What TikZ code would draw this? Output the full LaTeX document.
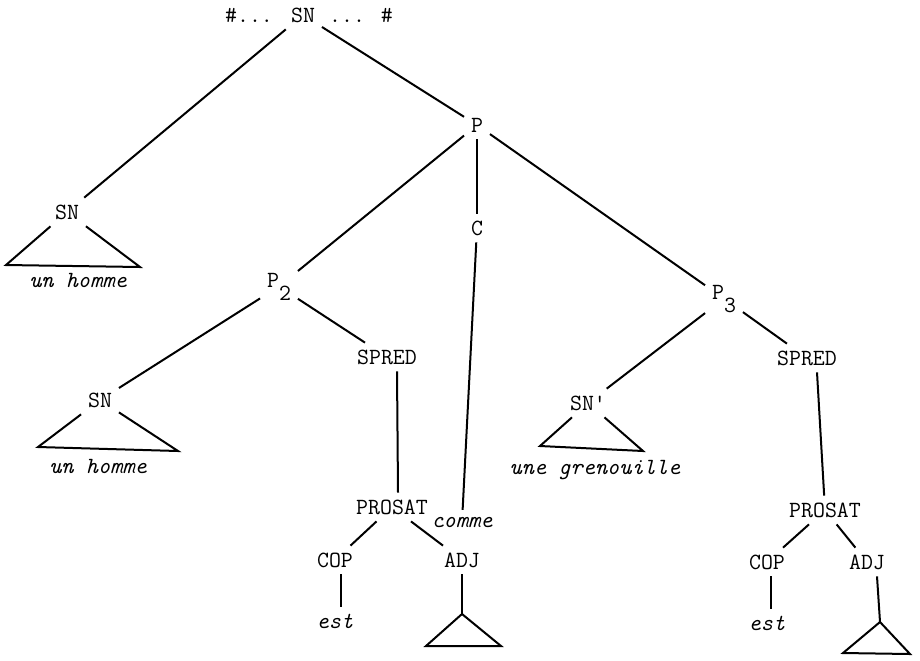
\documentclass[tikz,border=0pt]{standalone}
\usepackage{tikz}
\newcommand{\lowsub}[1]{\raisebox{-6.5pt}{#1}}

\begin{document}
\begin{tikzpicture}[x=0.5pt,y=0.5pt,yscale=-1,xscale=1,
    line width=1pt,
    cat/.style={inner sep=1.5pt, outer sep=2pt, font=\fontsize{11.6}{14}\selectfont\ttfamily},
    word/.style={inner sep=1.5pt, outer sep=2pt, anchor=base, font=\fontsize{11.6}{14}\selectfont\ttfamily\itshape}]
    \useasboundingbox (0,0) rectangle (920,660);

    \draw (249,15) node [cat] (hashL) {\#...};
    \draw (303,15) node [cat] (root) {SN};
    \draw (361,15) node [cat] (hashR) {... \#};
    \draw (477,125) node [cat] (p) {P};
    \draw (477,228) node [cat] (c) {C};
    \draw (462,527) node [word] (comme) {comme};

    \draw (67,212) node [cat] (snA) {SN};
    \draw (78,287) node [word] (wordA) {un homme};

    \draw (279,287) node [cat, anchor=base] (pTwo) {P\lowsub{2}};
    \draw (100,400) node [cat] (snB) {SN};
    \draw (98,473) node [word] (wordB) {un homme};
    \draw (387,357) node [cat] (spredA) {SPRED};
    \draw (392,507) node [cat] (prosatA) {PROSAT};
    \draw (335,560) node [cat] (copA) {COP};
    \draw (462,560) node [cat] (adjA) {ADJ};
    \draw (335,628) node [word] (estA) {est};

    \draw (724,299) node [cat, anchor=base] (pThree) {P\lowsub{3}};
    \draw (588,403) node [cat] (snC) {SN\textquotesingle};
    \draw (595,474) node [word] (wordC) {une grenouille};
    \draw (807,358) node [cat] (spredB) {SPRED};
    \draw (825,510) node [cat] (prosatB) {PROSAT};
    \draw (767,562) node [cat] (copB) {COP};
    \draw (867,562) node [cat] (adjB) {ADJ};
    \draw (767,630) node [word] (estB) {est};

    % triangle corners
    \coordinate (snAl) at (6,265);
    \coordinate (snAr) at (140,267);
    \coordinate (snBl) at (38,447);
    \coordinate (snBr) at (178,451);
    \coordinate (snCl) at (540,446);
    \coordinate (snCr) at (643,451);
    \coordinate (triA) at (462,614);
    \coordinate (triAl) at (426,646);
    \coordinate (triAr) at (501,646);
    \coordinate (triB) at (880,622);
    \coordinate (triBl) at (843,653);
    \coordinate (triBr) at (910,654);

    \draw (root) -- (snA);
    \draw (root) -- (p);
    \draw (p) -- (pTwo);
    \draw (p) -- (c);
    \draw (p) -- (pThree);
    \draw (c) -- (comme);

    \draw (pTwo) -- (snB);
    \draw (pTwo) -- (spredA);
    \draw ([xshift=5pt]spredA.south) -- ([xshift=3pt]prosatA.north);
    \draw (prosatA) -- (copA);
    \draw (prosatA) -- (adjA);
    \draw ([xshift=3pt]copA.south) -- ([xshift=3pt]estA.north);
    \draw (adjA) -- (triA);

    \draw (pThree) -- (snC);
    \draw (pThree) -- (spredB);
    \draw ([xshift=5pt]spredB.south) -- (prosatB);
    \draw (prosatB) -- (copB);
    \draw (prosatB) -- (adjB);
    \draw ([xshift=2pt]copB.south) -- ([xshift=2pt]estB.north);
    \draw ([xshift=5pt]adjB.south) -- (triB);

    \draw (snA) -- (snAl) -- (snAr) -- (snA);
    \draw (snB) -- (snBl) -- (snBr) -- (snB);
    \draw (snC) -- (snCl) -- (snCr) -- (snC);
    \draw (triA) -- (triAl) -- (triAr) -- cycle;
    \draw (triB) -- (triBl) -- (triBr) -- cycle;
\end{tikzpicture}
\end{document}
